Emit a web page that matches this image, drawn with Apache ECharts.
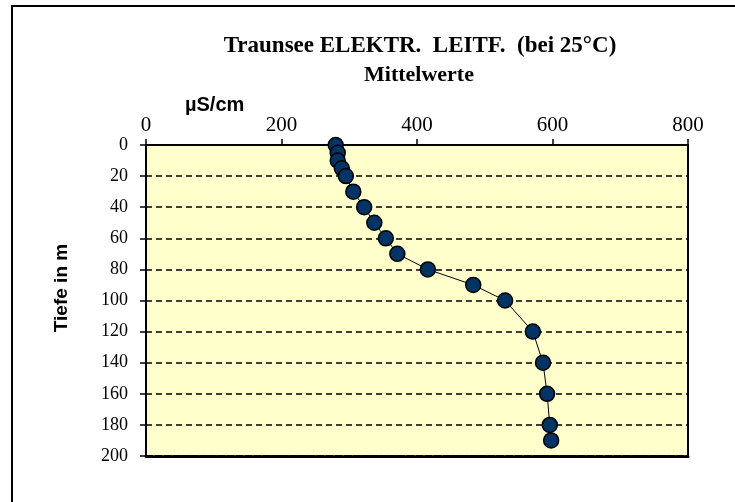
<!DOCTYPE html>
<html>
<head>
<meta charset="utf-8">
<script src="https://cdn.jsdelivr.net/npm/echarts@6/dist/echarts.min.js"></script>
<style>
  html, body { margin: 0; padding: 0; background: #fff; }
  #chart { width: 735px; height: 502px; }
</style>
</head>
<body>
<div id="chart"></div>
<script>
// Leitfähigkeit (µS/cm) und Tiefe (m)
var leitf = [280, 283, 283, 289, 295, 306, 322, 337, 354, 371, 416, 483, 530, 571, 586, 592, 596, 598];
var tiefe = [0, 5, 10, 15, 20, 30, 40, 50, 60, 70, 80, 90, 100, 120, 140, 160, 180, 190];
var titel = ['Traunsee ELEKTR.  LEITF.  (bei 25°C)', 'Mittelwerte'];

var myChart = echarts.init(document.getElementById('chart'));

var punkte = [];
for (var i = 0; i < leitf.length; i++) {
    punkte.push([leitf[i], tiefe[i]]);
}

var serif = '"Liberation Serif", "DejaVu Serif", serif';
var sans = '"Liberation Sans", Arial, sans-serif';

option = {
    backgroundColor: '#ffffff',
    animation: false,
    title: [
        {
            text: titel[0],
            left: 415,
            top: 30,
            textAlign: 'center',
            textStyle: {fontFamily: serif, fontWeight: 'bold', fontSize: 23, color: '#000'}
        },
        {
            text: titel[1],
            left: 414,
            top: 59,
            textAlign: 'center',
            textStyle: {fontFamily: serif, fontWeight: 'bold', fontSize: 22, color: '#000'}
        }
    ],
    graphic: [
        {
            type: 'polyline',
            shape: {points: [[12, 520], [12, 6], [740, 6]]},
            style: {stroke: '#000', lineWidth: 2, fill: null}
        },
        {
            type: 'text',
            left: 185,
            top: 95,
            style: {text: 'µS/cm', fontFamily: sans, fontWeight: 'bold', fontSize: 20, fill: '#000'}
        },
        {
            // Achsentitel links
            type: 'text',
            x: 62,
            y: 288,
            rotation: Math.PI / 2,
            style: {
                text: 'Tiefe in m', fontFamily: sans, fontWeight: 'bold', fontSize: 19,
                fill: '#000', align: 'center', verticalAlign: 'middle'
            }
        }
    ],
    grid: {
        left: 146,
        right: 47,
        top: 145,
        bottom: 46,
        show: true,
        backgroundColor: '#FFFFCC',
        borderWidth: 0
    },
    xAxis: [
        {
            type: 'value',
            position: 'top',
            min: 0,
            max: 800,
            interval: 200,
            axisLine: {show: true, onZero: false, lineStyle: {color: '#000', width: 2}},
            axisTick: {show: true, inside: false, length: 6, lineStyle: {color: '#000', width: 1.5}},
            axisLabel: {fontFamily: serif, fontSize: 21, color: '#000', margin: 9},
            splitLine: {show: false}
        },
        {
            type: 'value',
            position: 'bottom',
            min: 0,
            max: 800,
            axisLine: {show: true, onZero: false, lineStyle: {color: '#000', width: 3, type: [7, 2]}},
            axisTick: {show: false},
            axisLabel: {show: false},
            splitLine: {show: false}
        }
    ],
    yAxis: [
        {
            type: 'value',
            inverse: true,
            min: 0,
            max: 200,
            interval: 20,
            axisLine: {show: true, onZero: false, lineStyle: {color: '#000', width: 2}},
            axisTick: {show: true, length: 6, lineStyle: {color: '#000', width: 1.5}},
            axisLabel: {fontFamily: serif, fontSize: 18, color: '#000', margin: 18},
            splitLine: {show: true, lineStyle: {color: '#000', width: 1.5, type: [6, 4]}}
        },
        {
            type: 'value',
            position: 'right',
            inverse: true,
            min: 0,
            max: 200,
            axisLine: {show: true, onZero: false, lineStyle: {color: '#000', width: 2}},
            axisTick: {show: false},
            axisLabel: {show: false},
            splitLine: {show: false}
        }
    ],
    series: [
        {
            name: 'Leitfähigkeit',
            type: 'line',
            xAxisIndex: 0,
            yAxisIndex: 0,
            data: punkte,
            symbol: 'circle',
            symbolSize: 15,
            lineStyle: {color: '#000', width: 1},
            itemStyle: {color: '#003366', borderColor: '#000', borderWidth: 1.5}
        }
    ]
};

myChart.setOption(option);
window.addEventListener('resize', function () {
    myChart.resize();
});
</script>
</body>
</html>
